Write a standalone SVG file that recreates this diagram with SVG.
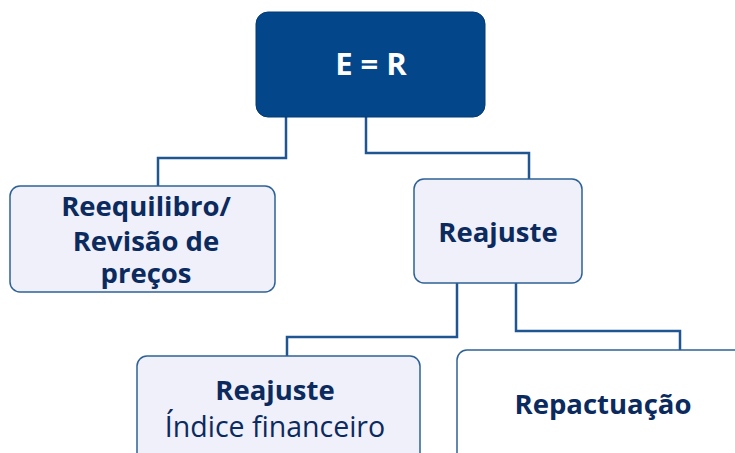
<svg xmlns="http://www.w3.org/2000/svg" width="735" height="453" viewBox="0 0 735 453">
<style>
.box{fill:#EFF0FA;stroke:#2E6195;stroke-width:1.5}
.wbox{fill:#FFFFFF;stroke:#2E6195;stroke-width:1.5}
.t{font-family:"Open Sans","Noto Sans",sans-serif;font-weight:bold;fill:#0B2A5E;text-anchor:middle;font-size:27.5px}
.r{font-family:"Open Sans","Noto Sans",sans-serif;font-weight:normal;fill:#0B2A5E;text-anchor:middle;font-size:28.5px}
.c{fill:none;stroke:#1F5591;stroke-width:2.5}
</style>
<rect width="735" height="453" fill="#FFFFFF"/>
<g id="connectors">
<polyline class="c" points="286,117 286,158 158,158 158,186"/>
<polyline class="c" points="366,117 366,153 529,153 529,179"/>
<polyline class="c" points="457,283 457,337 287,337 287,356"/>
<polyline class="c" points="516,283 516,331 680,331 680,350"/>
</g>
<g id="node-er">
<rect x="256" y="12" width="229" height="105" rx="12" fill="#03468A" stroke="#033A75" stroke-width="1"/>
<text x="371" y="75" class="t" style="fill:#FFFFFF;font-size:31px">E = R</text>
</g>
<g id="node-reequilibrio">
<rect class="box" x="10" y="186" width="265" height="106" rx="10"/>
<text x="146" y="216" class="t">Reequilibro/</text>
<text x="146" y="251" class="t">Revisão de</text>
<text x="146" y="283" class="t">preços</text>
</g>
<g id="node-reajuste">
<rect class="box" x="414" y="179" width="168" height="104" rx="10"/>
<text x="498" y="242" class="t">Reajuste</text>
</g>
<g id="node-reajuste-indice">
<rect class="box" x="137" y="356" width="283" height="110" rx="10"/>
<text x="275" y="400" class="t">Reajuste</text>
<text x="275" y="437" class="r">Índice financeiro</text>
</g>
<g id="node-repactuacao">
<rect class="wbox" x="457" y="350" width="290" height="116" rx="10"/>
<text x="603" y="414" class="t">Repactuação</text>
</g>
</svg>
